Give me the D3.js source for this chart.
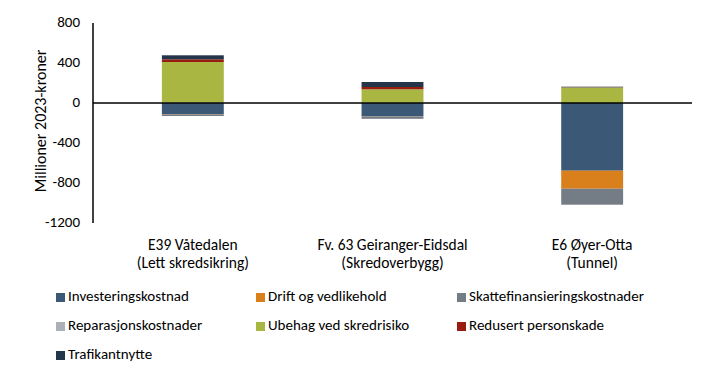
<!DOCTYPE html>
<html>
<head>
<meta charset="utf-8">
<script src="https://cdn.jsdelivr.net/npm/d3@7"></script>
<style>
  body { margin: 0; background: #fff; }
  svg { display: block; font-family: Carlito, Lato, "Liberation Sans", sans-serif; }
</style>
</head>
<body>
<svg id="chart" width="710" height="376"></svg>
<script>
const categories = [
    ['E39 Våtedalen', '(Lett skredsikring)'],
    ['Fv. 63 Geiranger-Eidsdal', '(Skredoverbygg)'],
    ['E6 Øyer-Otta', '(Tunnel)']
];
const seriesNames = ['Investeringskostnad', 'Drift og vedlikehold', 'Skattefinansieringskostnader',
    'Reparasjonskostnader', 'Ubehag ved skredrisiko', 'Redusert personskade', 'Trafikantnytte'];
const seriesColors = ['#3b5877', '#d97f1c', '#747d85', '#abb1b7', '#a9b742', '#981c0f', '#25354a'];

const investering = [-115, -130, -677];
const drift = [-3, -3, -180];
const skatt = [-12, -25, -160];
const reparasjon = [5, 3, 0];
const ubehag = [405, 134, 155];
const redusert = [27, 23, 2];
const trafikant = [40, 50, 6];

const yTicks = [800, 400, 0, -400, -800, -1200];

const allSeries = [investering, drift, skatt, reparasjon, ubehag, redusert, trafikant];
const rows = categories.map((c, i) => {
    const r = { key: i };
    seriesNames.forEach((s, j) => r[s] = allSeries[j][i]);
    return r;
});

const svg = d3.select('#chart');
const margin = { left: 93, right: 18, top: 23, bottom: 153 };
const W = 710, H = 376;

const x = d3.scaleBand().domain(d3.range(categories.length))
    .range([margin.left, W - margin.right]).paddingInner(0.69).paddingOuter(0.345);
const y = d3.scaleLinear().domain([-1200, 800]).range([H - margin.bottom, margin.top]);

const stack = d3.stack().keys(seriesNames).offset(d3.stackOffsetDiverging);
const layers = stack(rows);

svg.append('g').selectAll('g').data(layers).join('g')
    .attr('fill', (d, i) => seriesColors[i])
    .selectAll('rect').data(d => d).join('rect')
    .attr('x', d => x(d.data.key))
    .attr('width', x.bandwidth())
    .attr('y', d => y(Math.max(d[0], d[1])))
    .attr('height', d => Math.abs(y(d[0]) - y(d[1])));

// axes
svg.append('line')
    .attr('x1', margin.left).attr('x2', margin.left)
    .attr('y1', y(800)).attr('y2', y(-1200))
    .attr('stroke', '#000').attr('stroke-width', 1.5);
svg.append('line')
    .attr('x1', margin.left).attr('x2', W - margin.right)
    .attr('y1', y(0)).attr('y2', y(0))
    .attr('stroke', '#000').attr('stroke-width', 1.5);

svg.append('g').selectAll('text').data(yTicks).join('text')
    .attr('x', 80).attr('y', d => y(d))
    .attr('text-anchor', 'end').attr('dominant-baseline', 'middle')
    .style('font-size', '15px').style('fill', '#000')
    .text(d => d);

svg.append('text')
    .attr('transform', `translate(42, 121) rotate(-90)`)
    .attr('text-anchor', 'middle').attr('dominant-baseline', 'middle')
    .style('font-size', '16px').style('fill', '#000')
    .text('Millioner 2023-kroner');

// category labels
const catG = svg.append('g').selectAll('text').data(categories).join('text')
    .attr('text-anchor', 'middle')
    .style('font-size', '15.5px').style('fill', '#000');
catG.each(function (lines, i) {
    const cx = x(i) + x.bandwidth() / 2;
    d3.select(this).selectAll('tspan').data(lines).join('tspan')
        .attr('x', cx).attr('y', (d, k) => 250 + k * 18)
        .text(d => d);
});

// legend
const legendCols = [56, 256, 457];
const legendRows = [297.5, 326.5, 355.5];
const lg = svg.append('g').selectAll('g').data(seriesNames).join('g')
    .attr('transform', (d, i) => `translate(${legendCols[i % 3]}, ${legendRows[Math.floor(i / 3)]})`);
lg.append('rect').attr('x', 0).attr('y', -4.5).attr('width', 9).attr('height', 9)
    .attr('fill', (d, i) => seriesColors[i]);
lg.append('text').attr('x', 12).attr('y', 0).attr('dominant-baseline', 'middle')
    .style('font-size', '15px').style('fill', '#000')
    .text(d => d);
</script>
</body>
</html>
